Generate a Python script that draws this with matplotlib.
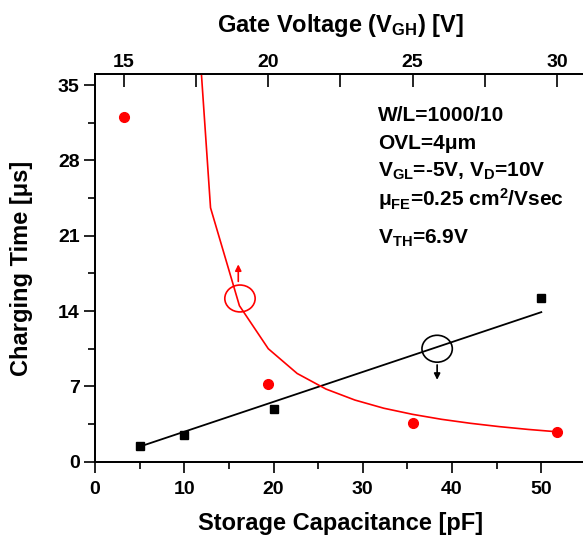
import matplotlib
matplotlib.use('Agg')
import matplotlib.pyplot as plt
from matplotlib.patches import Ellipse

plt.rcParams['font.family'] = ['Liberation Sans', 'DejaVu Sans']
plt.rcParams['font.weight'] = 'bold'
plt.rcParams['mathtext.fontset'] = 'custom'
plt.rcParams['mathtext.rm'] = 'Liberation Sans:bold'
plt.rcParams['mathtext.it'] = 'Liberation Sans:bold'
plt.rcParams['mathtext.bf'] = 'Liberation Sans:bold'
plt.rcParams['mathtext.default'] = 'rm'

# charging time vs storage capacitance (bottom axis)
cap_pf = [5, 10, 20, 50]
time_cap = [1.5, 2.5, 4.9, 15.2]
cap_line_x = [5, 50]
cap_line_y = [1.4, 13.9]

# charging time vs gate voltage (top axis)
gate_v = [15, 20, 25, 30]
time_gate = [32.0, 7.2, 3.6, 2.8]
gate_line_x = [17, 18, 19, 20, 21, 22, 23, 24, 25, 26, 27, 28, 29, 30]
gate_line_y = [63.0, 23.6, 14.5, 10.5, 8.2, 6.75, 5.73, 4.97, 4.40, 3.94, 3.57, 3.26, 3.0, 2.78]

cap_ticks = [0, 10, 20, 30, 40, 50]
gate_ticks = [15, 20, 25, 30]
time_ticks = [0, 7, 14, 21, 28, 35]

notes = [
    "W/L=1000/10",
    "OVL=4\u03bcm",
    r"V$_{GL}$=-5V, V$_{D}$=10V",
    "\u03bc$_{FE}$=0.25 cm$^{2}$/Vsec",
    r"V$_{TH}$=6.9V",
]
notes_y = [31.66, 29.1, 26.46, 23.74, 20.28]

fig = plt.figure(figsize=(5.83, 5.35), dpi=100)
ax = fig.add_axes([0.163, 0.137, 0.842, 0.724])
ax.set_xlim(0, 55)
ax.set_ylim(0, 36)

ax.plot(cap_line_x, cap_line_y, color='black', lw=1.3, zorder=2)
ax.plot(cap_pf, time_cap, 's', color='black', ms=6, zorder=3)

ax.set_xticks(cap_ticks)
ax.set_xticks([5, 15, 25, 35, 45, 55], minor=True)
ax.set_yticks(time_ticks)
ax.set_yticks([3.5, 10.5, 17.5, 24.5, 31.5], minor=True)
ax.tick_params(axis='both', which='major', direction='out', length=8, width=1.2,
               labelsize=14, pad=3)
ax.tick_params(axis='both', which='minor', direction='out', length=5, width=1.2)
ax.tick_params(axis='x', which='major', pad=6)
ax.tick_params(top=False, right=False, which='both')
for s in ax.spines.values():
    s.set_linewidth(1.3)

ax.set_xlabel("Storage Capacitance [pF]", fontsize=17, fontweight='bold', labelpad=10)
ax.set_ylabel("Charging Time [\u03bcs]", fontsize=17, fontweight='bold', labelpad=18)

top = ax.twiny()
top.set_xlim(14, 31)
top.plot(gate_line_x, gate_line_y, color='red', lw=1.2, zorder=2)
top.plot(gate_v, time_gate, 'o', color='red', ms=7, zorder=3)
top.set_xticks(gate_ticks)
top.set_xticks([17.5, 22.5, 27.5], minor=True)
top.tick_params(axis='x', which='major', direction='in', length=9, width=1.2,
                labelsize=14, pad=2.5)
top.tick_params(axis='x', which='minor', direction='in', length=9, width=1.2)
top.set_xlabel(r"Gate Voltage (V$_{GH}$) [V]", fontsize=17, fontweight='bold', labelpad=16)
for s in top.spines.values():
    s.set_linewidth(1.3)

for txt, y in zip(notes, notes_y):
    ax.text(31.7, y, txt, fontsize=15, fontweight='bold', va='baseline', ha='left')

# curve markers: circles with arrows pointing to the axis each curve uses
ax.add_patch(Ellipse((16.24, 15.17), 3.4, 2.5, fill=False, ec='red', lw=1.2))
ax.annotate('', xy=(16.05, 18.6), xytext=(16.05, 16.5),
            arrowprops=dict(arrowstyle='-|>', color='red', lw=1.2, mutation_scale=9))
ax.add_patch(Ellipse((38.33, 10.5), 3.4, 2.5, fill=False, ec='black', lw=1.2))
ax.annotate('', xy=(38.33, 7.35), xytext=(38.33, 9.25),
            arrowprops=dict(arrowstyle='-|>', color='black', lw=1.2, mutation_scale=9))

fig.savefig('out.png', dpi=100)
